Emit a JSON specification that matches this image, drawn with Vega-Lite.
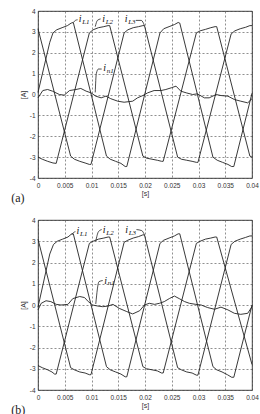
{
  "$schema": "https://vega.github.io/schema/vega-lite/v6.json",
  "background": "white",
  "padding": {"top": 7, "left": 10, "right": 5, "bottom": 0},
  "spacing": 12,
  "config": {
    "view": {"stroke": "#111", "strokeWidth": 0.8},
    "axis": {
      "grid": true, "gridDash": [2, 2], "gridColor": "#444", "gridWidth": 0.6, "gridOpacity": 1,
      "ticks": false, "domain": false, "labelOverlap": false,
      "labelFont": "Liberation Sans", "labelFontSize": 6.5, "labelColor": "#333", "labelFlush": false,
      "titleFont": "Liberation Sans", "titleFontSize": 7, "titleFontWeight": "normal", "titleColor": "#333"
    },
    "axisX": {"labelPadding": 4, "titlePadding": 1},
    "axisY": {"labelPadding": 3, "titlePadding": 3},
    "title": {"font": "Liberation Serif", "fontSize": 12, "fontWeight": "normal", "color": "#222"}
  },
  "datasets": {
    "curvesA": [
      {"t": 0, "i": 0.1, "s": "iL1"}, {"t": 0.0022, "i": 2.5, "s": "iL1"}, {"t": 0.0028, "i": 2.95, "s": "iL1"}, {"t": 0.0035, "i": 3.1, "s": "iL1"}, {"t": 0.0045, "i": 3.2, "s": "iL1"}, {"t": 0.0055, "i": 3.3, "s": "iL1"}, {"t": 0.0062, "i": 3.42, "s": "iL1"}, {"t": 0.0066, "i": 3.45, "s": "iL1"},
      {"t": 0.0128, "i": -2.95, "s": "iL1"}, {"t": 0.0135, "i": -3.1, "s": "iL1"}, {"t": 0.0145, "i": -3.2, "s": "iL1"}, {"t": 0.0155, "i": -3.3, "s": "iL1"}, {"t": 0.0163, "i": -3.45, "s": "iL1"}, {"t": 0.0166, "i": -3.45, "s": "iL1"},
      {"t": 0.0228, "i": 2.95, "s": "iL1"}, {"t": 0.0235, "i": 3.15, "s": "iL1"}, {"t": 0.0245, "i": 3.25, "s": "iL1"}, {"t": 0.0255, "i": 3.35, "s": "iL1"}, {"t": 0.0262, "i": 3.45, "s": "iL1"}, {"t": 0.0265, "i": 3.42, "s": "iL1"},
      {"t": 0.0327, "i": -3.0, "s": "iL1"}, {"t": 0.0335, "i": -3.15, "s": "iL1"}, {"t": 0.0345, "i": -3.25, "s": "iL1"}, {"t": 0.0355, "i": -3.35, "s": "iL1"}, {"t": 0.0362, "i": -3.45, "s": "iL1"}, {"t": 0.0366, "i": -3.45, "s": "iL1"}, {"t": 0.04, "i": 0.06, "s": "iL1"},

      {"t": 0, "i": -3.0, "s": "iL2"}, {"t": 0.0008, "i": -3.1, "s": "iL2"}, {"t": 0.0018, "i": -3.2, "s": "iL2"}, {"t": 0.0028, "i": -3.28, "s": "iL2"}, {"t": 0.0034, "i": -3.3, "s": "iL2"},
      {"t": 0.0096, "i": 2.95, "s": "iL2"}, {"t": 0.0103, "i": 3.1, "s": "iL2"}, {"t": 0.0113, "i": 3.2, "s": "iL2"}, {"t": 0.0123, "i": 3.25, "s": "iL2"}, {"t": 0.0131, "i": 3.3, "s": "iL2"}, {"t": 0.0134, "i": 3.3, "s": "iL2"},
      {"t": 0.0196, "i": -2.95, "s": "iL2"}, {"t": 0.0203, "i": -3.05, "s": "iL2"}, {"t": 0.0213, "i": -3.1, "s": "iL2"}, {"t": 0.0223, "i": -3.15, "s": "iL2"}, {"t": 0.0231, "i": -3.2, "s": "iL2"}, {"t": 0.0234, "i": -3.2, "s": "iL2"},
      {"t": 0.0296, "i": 2.95, "s": "iL2"}, {"t": 0.0303, "i": 3.05, "s": "iL2"}, {"t": 0.0313, "i": 3.12, "s": "iL2"}, {"t": 0.0323, "i": 3.2, "s": "iL2"}, {"t": 0.0331, "i": 3.25, "s": "iL2"}, {"t": 0.0334, "i": 3.25, "s": "iL2"},
      {"t": 0.0396, "i": -2.95, "s": "iL2"}, {"t": 0.04, "i": -3.0, "s": "iL2"},

      {"t": 0, "i": 3.15, "s": "iL3"}, {"t": 0.0061, "i": -2.95, "s": "iL3"}, {"t": 0.0068, "i": -3.1, "s": "iL3"}, {"t": 0.0078, "i": -3.2, "s": "iL3"}, {"t": 0.0088, "i": -3.28, "s": "iL3"}, {"t": 0.0096, "i": -3.35, "s": "iL3"}, {"t": 0.0099, "i": -3.35, "s": "iL3"},
      {"t": 0.0161, "i": 2.95, "s": "iL3"}, {"t": 0.0168, "i": 3.1, "s": "iL3"}, {"t": 0.0178, "i": 3.2, "s": "iL3"}, {"t": 0.0188, "i": 3.25, "s": "iL3"}, {"t": 0.0196, "i": 3.3, "s": "iL3"}, {"t": 0.0199, "i": 3.3, "s": "iL3"},
      {"t": 0.0261, "i": -3.0, "s": "iL3"}, {"t": 0.0268, "i": -3.1, "s": "iL3"}, {"t": 0.0278, "i": -3.15, "s": "iL3"}, {"t": 0.0288, "i": -3.2, "s": "iL3"}, {"t": 0.0296, "i": -3.25, "s": "iL3"}, {"t": 0.0299, "i": -3.25, "s": "iL3"},
      {"t": 0.0361, "i": 2.9, "s": "iL3"}, {"t": 0.0368, "i": 3.05, "s": "iL3"}, {"t": 0.0378, "i": 3.15, "s": "iL3"}, {"t": 0.0388, "i": 3.22, "s": "iL3"}, {"t": 0.0396, "i": 3.3, "s": "iL3"}, {"t": 0.04, "i": 3.3, "s": "iL3"},

      {"t": 0, "i": -0.16, "s": "in1"}, {"t": 0.0009, "i": 0.19, "s": "in1"}, {"t": 0.0018, "i": 0.24, "s": "in1"}, {"t": 0.0027, "i": 0.16, "s": "in1"}, {"t": 0.004, "i": 0.0, "s": "in1"}, {"t": 0.0049, "i": -0.03, "s": "in1"}, {"t": 0.0059, "i": 0.19, "s": "in1"}, {"t": 0.0071, "i": 0.24, "s": "in1"}, {"t": 0.008, "i": 0.29, "s": "in1"}, {"t": 0.009, "i": 0.16, "s": "in1"}, {"t": 0.0099, "i": 0.08, "s": "in1"}, {"t": 0.0108, "i": -0.08, "s": "in1"}, {"t": 0.0118, "i": -0.16, "s": "in1"}, {"t": 0.0127, "i": -0.08, "s": "in1"}, {"t": 0.0136, "i": -0.2, "s": "in1"}, {"t": 0.0149, "i": -0.32, "s": "in1"}, {"t": 0.0161, "i": -0.37, "s": "in1"}, {"t": 0.0177, "i": -0.32, "s": "in1"}, {"t": 0.0186, "i": -0.16, "s": "in1"}, {"t": 0.0196, "i": -0.05, "s": "in1"}, {"t": 0.0205, "i": 0.08, "s": "in1"}, {"t": 0.0217, "i": 0.19, "s": "in1"}, {"t": 0.023, "i": 0.19, "s": "in1"}, {"t": 0.0239, "i": 0.24, "s": "in1"}, {"t": 0.0249, "i": 0.32, "s": "in1"}, {"t": 0.0258, "i": 0.4, "s": "in1"}, {"t": 0.0267, "i": 0.16, "s": "in1"}, {"t": 0.0277, "i": 0.08, "s": "in1"}, {"t": 0.0289, "i": 0.0, "s": "in1"}, {"t": 0.0298, "i": 0.03, "s": "in1"}, {"t": 0.0311, "i": -0.16, "s": "in1"}, {"t": 0.032, "i": -0.16, "s": "in1"}, {"t": 0.0333, "i": 0.0, "s": "in1"}, {"t": 0.0342, "i": -0.05, "s": "in1"}, {"t": 0.0355, "i": -0.08, "s": "in1"}, {"t": 0.0367, "i": -0.24, "s": "in1"}, {"t": 0.0379, "i": -0.32, "s": "in1"}, {"t": 0.0392, "i": -0.4, "s": "in1"}, {"t": 0.04, "i": -0.2, "s": "in1"}
    ],
    "curvesB": [
      {"t": 0, "i": -0.1, "s": "iL1"}, {"t": 0.0022, "i": 2.4, "s": "iL1"}, {"t": 0.0029, "i": 2.85, "s": "iL1"}, {"t": 0.0036, "i": 3.0, "s": "iL1"}, {"t": 0.0046, "i": 3.1, "s": "iL1"}, {"t": 0.0056, "i": 3.2, "s": "iL1"}, {"t": 0.0063, "i": 3.35, "s": "iL1"}, {"t": 0.0066, "i": 3.35, "s": "iL1"},
      {"t": 0.0128, "i": -2.9, "s": "iL1"}, {"t": 0.0135, "i": -3.05, "s": "iL1"}, {"t": 0.0145, "i": -3.15, "s": "iL1"}, {"t": 0.0155, "i": -3.25, "s": "iL1"}, {"t": 0.0163, "i": -3.38, "s": "iL1"}, {"t": 0.0166, "i": -3.38, "s": "iL1"},
      {"t": 0.0228, "i": 2.9, "s": "iL1"}, {"t": 0.0235, "i": 3.05, "s": "iL1"}, {"t": 0.0245, "i": 3.15, "s": "iL1"}, {"t": 0.0255, "i": 3.25, "s": "iL1"}, {"t": 0.0262, "i": 3.35, "s": "iL1"}, {"t": 0.0265, "i": 3.35, "s": "iL1"},
      {"t": 0.0327, "i": -2.9, "s": "iL1"}, {"t": 0.0334, "i": -3.05, "s": "iL1"}, {"t": 0.0344, "i": -3.15, "s": "iL1"}, {"t": 0.0354, "i": -3.28, "s": "iL1"}, {"t": 0.0362, "i": -3.4, "s": "iL1"}, {"t": 0.0366, "i": -3.4, "s": "iL1"}, {"t": 0.04, "i": 0.0, "s": "iL1"},

      {"t": 0, "i": -2.85, "s": "iL2"}, {"t": 0.0008, "i": -2.95, "s": "iL2"}, {"t": 0.0018, "i": -3.05, "s": "iL2"}, {"t": 0.0026, "i": -3.15, "s": "iL2"}, {"t": 0.0031, "i": -3.25, "s": "iL2"}, {"t": 0.0034, "i": -3.25, "s": "iL2"},
      {"t": 0.0096, "i": 2.9, "s": "iL2"}, {"t": 0.0103, "i": 3.0, "s": "iL2"}, {"t": 0.0113, "i": 3.1, "s": "iL2"}, {"t": 0.0123, "i": 3.15, "s": "iL2"}, {"t": 0.0131, "i": 3.2, "s": "iL2"}, {"t": 0.0134, "i": 3.2, "s": "iL2"},
      {"t": 0.0196, "i": -2.9, "s": "iL2"}, {"t": 0.0203, "i": -3.0, "s": "iL2"}, {"t": 0.0213, "i": -3.05, "s": "iL2"}, {"t": 0.0223, "i": -3.1, "s": "iL2"}, {"t": 0.0231, "i": -3.2, "s": "iL2"}, {"t": 0.0234, "i": -3.2, "s": "iL2"},
      {"t": 0.0296, "i": 2.9, "s": "iL2"}, {"t": 0.0303, "i": 3.0, "s": "iL2"}, {"t": 0.0313, "i": 3.1, "s": "iL2"}, {"t": 0.0323, "i": 3.15, "s": "iL2"}, {"t": 0.0331, "i": 3.2, "s": "iL2"}, {"t": 0.0334, "i": 3.2, "s": "iL2"},
      {"t": 0.04, "i": -2.8, "s": "iL2"},

      {"t": 0, "i": 3.1, "s": "iL3"}, {"t": 0.0061, "i": -2.95, "s": "iL3"}, {"t": 0.0068, "i": -3.05, "s": "iL3"}, {"t": 0.0078, "i": -3.15, "s": "iL3"}, {"t": 0.0088, "i": -3.2, "s": "iL3"}, {"t": 0.0096, "i": -3.28, "s": "iL3"}, {"t": 0.0099, "i": -3.28, "s": "iL3"},
      {"t": 0.0161, "i": 2.95, "s": "iL3"}, {"t": 0.0168, "i": 3.05, "s": "iL3"}, {"t": 0.0178, "i": 3.15, "s": "iL3"}, {"t": 0.0188, "i": 3.22, "s": "iL3"}, {"t": 0.0196, "i": 3.3, "s": "iL3"}, {"t": 0.0199, "i": 3.3, "s": "iL3"},
      {"t": 0.0261, "i": -2.95, "s": "iL3"}, {"t": 0.0268, "i": -3.05, "s": "iL3"}, {"t": 0.0278, "i": -3.15, "s": "iL3"}, {"t": 0.0288, "i": -3.2, "s": "iL3"}, {"t": 0.0296, "i": -3.3, "s": "iL3"}, {"t": 0.0299, "i": -3.3, "s": "iL3"},
      {"t": 0.0361, "i": 2.85, "s": "iL3"}, {"t": 0.0368, "i": 3.0, "s": "iL3"}, {"t": 0.0378, "i": 3.1, "s": "iL3"}, {"t": 0.0388, "i": 3.18, "s": "iL3"}, {"t": 0.0396, "i": 3.25, "s": "iL3"}, {"t": 0.04, "i": 3.25, "s": "iL3"},

      {"t": 0, "i": -0.23, "s": "in1"}, {"t": 0.0006, "i": 0.08, "s": "in1"}, {"t": 0.0015, "i": 0.2, "s": "in1"}, {"t": 0.0024, "i": 0.16, "s": "in1"}, {"t": 0.0034, "i": 0.03, "s": "in1"}, {"t": 0.0043, "i": 0.0, "s": "in1"}, {"t": 0.0056, "i": 0.03, "s": "in1"}, {"t": 0.0065, "i": 0.3, "s": "in1"}, {"t": 0.0078, "i": 0.4, "s": "in1"}, {"t": 0.0087, "i": 0.35, "s": "in1"}, {"t": 0.0094, "i": 0.16, "s": "in1"}, {"t": 0.0102, "i": 0.0, "s": "in1"}, {"t": 0.0112, "i": -0.05, "s": "in1"}, {"t": 0.0121, "i": -0.08, "s": "in1"}, {"t": 0.0131, "i": -0.05, "s": "in1"}, {"t": 0.014, "i": 0.03, "s": "in1"}, {"t": 0.0152, "i": -0.16, "s": "in1"}, {"t": 0.0165, "i": -0.3, "s": "in1"}, {"t": 0.0177, "i": -0.42, "s": "in1"}, {"t": 0.019, "i": -0.27, "s": "in1"}, {"t": 0.0199, "i": 0.0, "s": "in1"}, {"t": 0.0208, "i": 0.08, "s": "in1"}, {"t": 0.0218, "i": 0.03, "s": "in1"}, {"t": 0.0227, "i": 0.08, "s": "in1"}, {"t": 0.0236, "i": 0.16, "s": "in1"}, {"t": 0.0246, "i": 0.31, "s": "in1"}, {"t": 0.0255, "i": 0.42, "s": "in1"}, {"t": 0.0264, "i": 0.3, "s": "in1"}, {"t": 0.0274, "i": 0.16, "s": "in1"}, {"t": 0.0283, "i": 0.08, "s": "in1"}, {"t": 0.0295, "i": 0.03, "s": "in1"}, {"t": 0.0305, "i": 0.0, "s": "in1"}, {"t": 0.0317, "i": -0.12, "s": "in1"}, {"t": 0.033, "i": -0.2, "s": "in1"}, {"t": 0.0342, "i": -0.1, "s": "in1"}, {"t": 0.0355, "i": -0.23, "s": "in1"}, {"t": 0.0367, "i": -0.39, "s": "in1"}, {"t": 0.0379, "i": -0.44, "s": "in1"}, {"t": 0.0392, "i": -0.39, "s": "in1"}, {"t": 0.04, "i": -0.08, "s": "in1"}
    ],
    "labelsA": [
      {"t": 0.0076, "i": 3.6, "sub": "L1"}, {"t": 0.012, "i": 3.6, "sub": "L2"}, {"t": 0.0162, "i": 3.6, "sub": "L3"}, {"t": 0.0122, "i": 1.25, "sub": "n1"}
    ],
    "leadersA": [
      {"t": 0.0074, "i": 3.58, "k": "L1"}, {"t": 0.007, "i": 3.55, "k": "L1"}, {"t": 0.0066, "i": 3.45, "k": "L1"},
      {"t": 0.0117, "i": 3.62, "k": "L2"}, {"t": 0.0111, "i": 3.55, "k": "L2"}, {"t": 0.0107, "i": 3.25, "k": "L2"},
      {"t": 0.0183, "i": 3.55, "k": "L3"}, {"t": 0.0193, "i": 3.55, "k": "L3"}, {"t": 0.0199, "i": 3.3, "k": "L3"},
      {"t": 0.0119, "i": 1.22, "k": "n1"}, {"t": 0.0113, "i": 1.22, "k": "n1"}, {"t": 0.0109, "i": 1.0, "k": "n1"}, {"t": 0.0107, "i": 0.1, "k": "n1"}
    ],
    "labelsB": [
      {"t": 0.0072, "i": 3.48, "sub": "L1"}, {"t": 0.0121, "i": 3.52, "sub": "L2"}, {"t": 0.0163, "i": 3.52, "sub": "L3"}, {"t": 0.0124, "i": 1.15, "sub": "n1"}
    ],
    "leadersB": [
      {"t": 0.007, "i": 3.45, "k": "L1"}, {"t": 0.0066, "i": 3.4, "k": "L1"}, {"t": 0.0063, "i": 3.3, "k": "L1"},
      {"t": 0.0119, "i": 3.55, "k": "L2"}, {"t": 0.0113, "i": 3.45, "k": "L2"}, {"t": 0.0108, "i": 3.0, "k": "L2"},
      {"t": 0.0184, "i": 3.55, "k": "L3"}, {"t": 0.0194, "i": 3.5, "k": "L3"}, {"t": 0.0199, "i": 3.3, "k": "L3"},
      {"t": 0.0121, "i": 1.15, "k": "n1"}, {"t": 0.0114, "i": 1.1, "k": "n1"}, {"t": 0.0108, "i": 0.05, "k": "n1"}
    ]
  },
  "vconcat": [
    {
      "width": 214, "height": 167,
      "title": {"text": "(a)", "orient": "bottom", "anchor": "start", "frame": "bounds", "dx": -8, "offset": -4},
      "encoding": {
        "x": {"field": "t", "type": "quantitative", "scale": {"domain": [0, 0.04], "nice": false},
              "axis": {"title": "[s]", "values": [0, 0.005, 0.01, 0.015, 0.02, 0.025, 0.03, 0.035, 0.04], "format": "~g"}},
        "y": {"field": "i", "type": "quantitative", "scale": {"domain": [-4, 4], "nice": false},
              "axis": {"title": "[A]", "values": [-4, -3, -2, -1, 0, 1, 2, 3, 4], "labelExpr": "replace(datum.label, '−', '-')"}}
      },
      "layer": [
        {
          "data": {"name": "curvesA"},
          "mark": {"type": "line", "color": "#222", "strokeWidth": 0.9},
          "encoding": {"detail": {"field": "s"}}
        },
        {
          "data": {"name": "leadersA"},
          "mark": {"type": "line", "color": "#222", "strokeWidth": 0.8, "interpolate": "monotone"},
          "encoding": {"detail": {"field": "k"}}
        },
        {
          "data": {"name": "labelsA"},
          "mark": {"type": "text", "text": "i", "align": "left", "baseline": "middle", "font": "Liberation Serif", "fontStyle": "italic", "fontSize": 10, "color": "#111"},
          "encoding": {}
        },
        {
          "data": {"name": "labelsA"},
          "mark": {"type": "text", "align": "left", "baseline": "middle", "dx": 3.5, "dy": 2.5, "font": "Liberation Serif", "fontStyle": "italic", "fontSize": 7, "color": "#111"},
          "encoding": {"text": {"field": "sub"}}
        }
      ]
    },
    {
      "width": 214, "height": 170,
      "title": {"text": "(b)", "orient": "bottom", "anchor": "start", "frame": "bounds", "dx": -8, "offset": -4},
      "encoding": {
        "x": {"field": "t", "type": "quantitative", "scale": {"domain": [0, 0.04], "nice": false},
              "axis": {"title": "[s]", "values": [0, 0.005, 0.01, 0.015, 0.02, 0.025, 0.03, 0.035, 0.04], "format": "~g"}},
        "y": {"field": "i", "type": "quantitative", "scale": {"domain": [-4, 4], "nice": false},
              "axis": {"title": "[A]", "values": [-4, -3, -2, -1, 0, 1, 2, 3, 4], "labelExpr": "replace(datum.label, '−', '-')"}}
      },
      "layer": [
        {
          "data": {"name": "curvesB"},
          "mark": {"type": "line", "color": "#222", "strokeWidth": 0.9},
          "encoding": {"detail": {"field": "s"}}
        },
        {
          "data": {"name": "leadersB"},
          "mark": {"type": "line", "color": "#222", "strokeWidth": 0.8, "interpolate": "monotone"},
          "encoding": {"detail": {"field": "k"}}
        },
        {
          "data": {"name": "labelsB"},
          "mark": {"type": "text", "text": "i", "align": "left", "baseline": "middle", "font": "Liberation Serif", "fontStyle": "italic", "fontSize": 10, "color": "#111"},
          "encoding": {}
        },
        {
          "data": {"name": "labelsB"},
          "mark": {"type": "text", "align": "left", "baseline": "middle", "dx": 3.5, "dy": 2.5, "font": "Liberation Serif", "fontStyle": "italic", "fontSize": 7, "color": "#111"},
          "encoding": {"text": {"field": "sub"}}
        }
      ]
    }
  ]
}
